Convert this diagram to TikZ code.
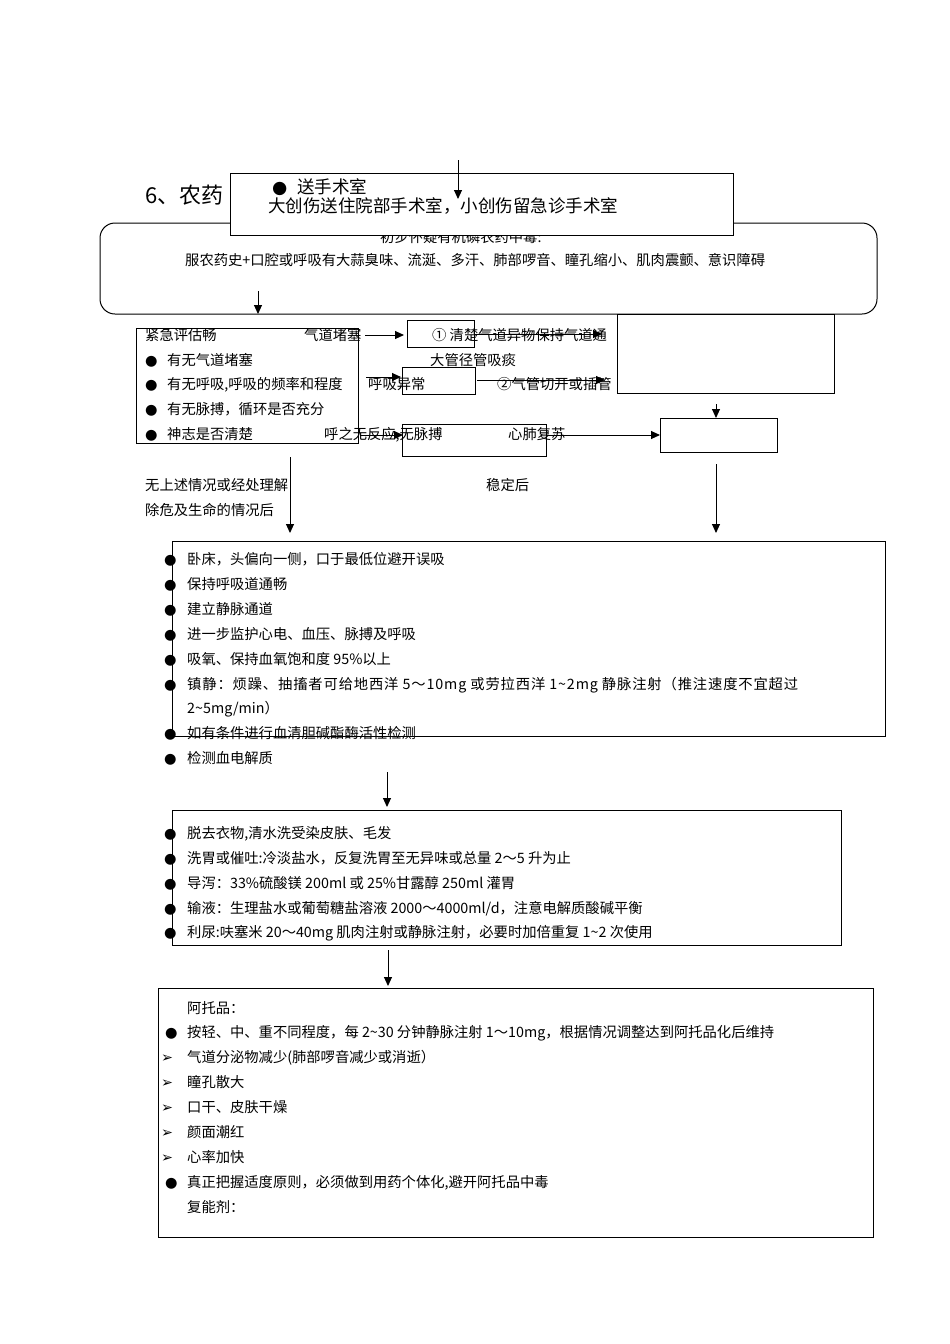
\documentclass[tikz,border=0pt]{standalone}
\usepackage{fontspec}
\setmainfont{Noto Sans CJK SC}
\newfontfamily\symf{DejaVu Sans}
\usetikzlibrary{arrows.meta}
\newcommand{\bodyfs}{\fontsize{14.3}{17}\selectfont}
\newcommand{\bigfs}{\fontsize{17.5}{21}\selectfont}
\newcommand{\bul}{{\symf ●}}
\newcommand{\arw}{{\symf ➢}}
\tikzset{
  box/.style={draw, line width=1pt, inner sep=0pt},
  txt/.style={anchor=west, inner sep=0pt, font=\bodyfs, text height=0.8em, text depth=0.2em, yshift=-2.5pt},
  arr/.style={-{Triangle[length=9pt,width=8pt]}, line width=1pt}
}
\begin{document}
\begin{tikzpicture}[x=1pt,y=-1pt]
\useasboundingbox (0,0) rectangle (950,1344);
\fill[white] (0,0) rectangle (950,1344);

% title
\node[txt, font=\fontsize{22}{26}\selectfont] (title) at (145,198) {6、农药};

% main rounded box
\node[box, rounded corners=15pt, minimum width=777pt, minimum height=91pt] (main) at (488.5,268.5) {};
\node[txt] (hdr) at (380,237) {初步怀疑有机磷农药中毒:};
\node[txt] (sym) at (185,260) {服农药史+口腔或呼吸有大蒜臭味、流涎、多汗、肺部啰音、瞳孔缩小、肌肉震颤、意识障碍};

% top box (covers parts)
\node[box, fill=white, minimum width=503pt, minimum height=62pt] (surg) at (481.5,204) {};
\node[txt, font=\bigfs] (surgb) at (272,188) {\bul};
\node[txt, font=\bigfs] (surg1) at (297,188) {送手术室};
\node[txt, font=\bigfs] (surg2) at (268,207) {大创伤送住院部手术室，小创伤留急诊手术室};
\coordinate (surgin) at (458,160);
\coordinate (surgend) at (458,199);
\draw[arr] (surgin) -- (surgend);

% arrow into assessment
\coordinate (a1s) at (258,291);
\coordinate (a1e) at (258,314);
\draw[arr] (a1s) -- (a1e);

% assessment box
\node[box, minimum width=222pt, minimum height=115pt] (assess) at (247,385.5) {};
\node[txt] (t1) at (145,335) {紧急评估畅};
\node[txt] (b1) at (145,360) {\bul};
\node[txt] (t2) at (167,360) {有无气道堵塞};
\node[txt] (b2) at (145,384) {\bul};
\node[txt] (t3) at (167,384) {有无呼吸,呼吸的频率和程度};
\node[txt] (b3) at (145,409) {\bul};
\node[txt] (t4) at (167,409) {有无脉搏，循环是否充分};
\node[txt] (b4) at (145,434) {\bul};
\node[txt] (t5) at (167,434) {神志是否清楚};

% airway row
\node[txt] (obst) at (304,335) {气道堵塞};
\node[box, minimum width=67pt, minimum height=27pt] (boxA) at (440.5,333.5) {};
\node[txt] (clr) at (432,335) {① 清楚气道异物保持气道通};
\node[txt] (suck) at (430,360) {大管径管吸痰};
\coordinate (obsta) at (365,335);
\coordinate (obstb) at (404,335);
\draw[arr] (obsta) -- (obstb);
\coordinate (clra) at (474,334);
\coordinate (clrb) at (602,334);
\draw[arr] (clra) -- (clrb);

% breathing row
\node[box, minimum width=73pt, minimum height=27pt] (boxB) at (438.5,380.5) {};
\node[txt] (abn) at (368,384) {呼吸异常};
\node[txt] (intub) at (497,384) {②气管切开或插管};
\coordinate (brta) at (366,377);
\coordinate (brtb) at (401,377);
\draw[arr] (brta) -- (brtb);
\coordinate (intua) at (477,380);
\coordinate (intub2) at (605,380);
\draw[arr] (intua) -- (intub2);

% right boxes
\node[box, minimum width=217pt, minimum height=79pt] (bigR) at (725.5,353.5) {};
\node[box, minimum width=117pt, minimum height=34pt] (smallR) at (718.5,435) {};
\coordinate (rda) at (716,404);
\coordinate (rdb) at (716,418);
\draw[arr] (rda) -- (rdb);

% pulse row
\node[box, minimum width=144pt, minimum height=32pt] (boxC) at (474,440) {};
\node[txt] (nores) at (324,434) {呼之无反应,无脉搏};
\node[txt] (cpr) at (508,434) {心肺复苏};
\coordinate (pa) at (360,435);
\coordinate (pb) at (403,435);
\draw[arr] (pa) -- (pb);
\coordinate (cpra) at (546,435);
\coordinate (cprb) at (660,435);
\draw[arr] (cpra) -- (cprb);

% down arrows
\coordinate (d1a) at (290,457);
\coordinate (d1b) at (290,533);
\draw[arr] (d1a) -- (d1b);
\coordinate (d2a) at (716,464);
\coordinate (d2b) at (716,533);
\draw[arr] (d2a) -- (d2b);
\node[txt] (nosit1) at (145,485) {无上述情况或经处理解};
\node[txt] (nosit2) at (145,510) {除危及生命的情况后};
\node[txt] (stable) at (486,485) {稳定后};

% box 3
\node[box, minimum width=713pt, minimum height=195pt] (care) at (528.5,638.5) {};
\foreach \yy/\tt in {559/{卧床，头偏向一侧，口于最低位避开误吸},584/{保持呼吸道通畅},609/{建立静脉通道},634/{进一步监护心电、血压、脉搏及呼吸},659/{吸氧、保持血氧饱和度 95\%以上},684/{\addfontfeature{LetterSpace=6}镇静：烦躁、抽搐者可给地西洋 5～10mg 或劳拉西洋 1\textasciitilde 2mg 静脉注射（推注速度不宜超过},733/{如有条件进行血清胆碱酯酶活性检测},758/{检测血电解质}}{
  \node[txt] at (164,\yy) {\bul};
  \node[txt] at (187,\yy) {\tt};
}
\node[txt] (sed2) at (187,708) {2\textasciitilde 5mg/min）};

\coordinate (d3a) at (387,772);
\coordinate (d3b) at (387,807);
\draw[arr] (d3a) -- (d3b);

% box 4
\node[box, minimum width=669pt, minimum height=135pt] (decon) at (506.5,877.5) {};
\foreach \yy/\tt in {833/{脱去衣物,清水洗受染皮肤、毛发},858/{洗胃或催吐:冷淡盐水，反复洗胃至无异味或总量 2～5 升为止},883/{导泻：33\%硫酸镁 200ml 或 25\%甘露醇 250ml 灌胃},908/{输液：生理盐水或葡萄糖盐溶液 2000～4000ml/d，注意电解质酸碱平衡},932/{利尿:呋塞米 20～40mg 肌肉注射或静脉注射，必要时加倍重复 1\textasciitilde 2 次使用}}{
  \node[txt] at (164,\yy) {\bul};
  \node[txt] at (187,\yy) {\tt};
}

\coordinate (d4a) at (388,950);
\coordinate (d4b) at (388,986);
\draw[arr] (d4a) -- (d4b);

% box 5
\node[box, minimum width=715pt, minimum height=249pt] (atro) at (515.5,1112.5) {};
\node[txt] (at0) at (187,1008) {阿托品：};
\node[txt] at (165,1032) {\bul};
\node[txt] (at1) at (187,1032) {按轻、中、重不同程度，每 2\textasciitilde 30 分钟静脉注射 1～10mg，根据情况调整达到阿托品化后维持};
\foreach \yy/\tt in {1057/{气道分泌物减少(肺部啰音减少或消逝）},1082/{瞳孔散大},1107/{口干、皮肤干燥},1132/{颜面潮红},1157/{心率加快}}{
  \node[txt] at (161,\yy) {\arw};
  \node[txt] at (187,\yy) {\tt};
}
\node[txt] at (165,1182) {\bul};
\node[txt] (at7) at (187,1182) {真正把握适度原则，必须做到用药个体化,避开阿托品中毒};
\node[txt] (at8) at (187,1207) {复能剂：};
\end{tikzpicture}
\end{document}
